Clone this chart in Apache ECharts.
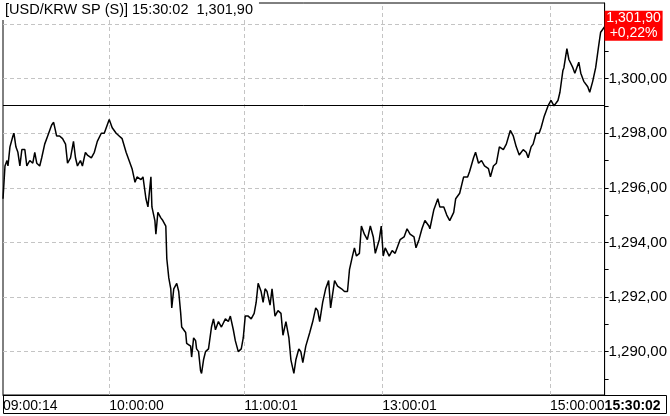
<!DOCTYPE html>
<html><head><meta charset="utf-8">
<script src="https://cdn.jsdelivr.net/npm/echarts@6/dist/echarts.min.js"></script>
<style>html,body{margin:0;padding:0;background:#fff}#c{width:670px;height:416px}</style>
</head><body><div id="c"></div>
<script>
// ---- data ----
const symbolName = '[USD/KRW SP (S)]';
const lastTime = '15:30:02';
const lastPrice = 1301.90;
const prevClose = 1299.04;
const changePct = 0.22;
const tickCount = 607; // number of tick slots on the time axis
const tickNo = [0,2,4,5,7,10,11,13,15,17,19,22,24,27,30,32,34,37,39,42,45,49,51,54,57,60,63,65,68,71,73,75,78,80,83,85,89,92,95,99,102,104,107,110,114,117,120,124,127,130,133,135,139,141,144,146,149,150,153,154,156,159,161,164,165,167,169,170,172,175,177,179,180,184,185,189,190,192,194,195,197,199,200,202,204,207,210,212,214,217,220,224,227,229,232,234,237,240,242,244,247,250,253,255,257,260,262,264,266,269,271,274,277,280,282,285,288,290,293,295,298,300,302,305,309,312,315,317,319,322,325,328,330,334,337,341,344,347,349,352,354,356,359,361,364,367,370,373,375,379,381,383,385,389,392,395,400,404,407,410,414,416,419,422,425,429,430,434,438,440,444,447,450,454,456,460,464,468,470,474,476,479,482,485,489,491,494,497,500,504,507,511,514,517,520,524,527,529,532,534,537,540,542,545,549,552,555,559,561,564,565,568,570,574,576,580,582,585,589,591,594,597,600,602,606];
const price = [1295.6,1296.8,1297.0,1296.8,1297.5,1297.9,1298.0,1297.5,1297.3,1296.8,1297.4,1297.4,1296.8,1297.0,1296.9,1297.3,1296.9,1296.8,1297.1,1297.6,1297.9,1298.3,1298.4,1297.9,1297.9,1297.8,1297.6,1296.9,1297.1,1297.7,1297.1,1296.8,1297.0,1296.8,1297.3,1297.2,1297.1,1297.3,1297.7,1298.0,1298.0,1298.2,1298.5,1298.2,1298.0,1297.9,1297.8,1297.3,1297.0,1296.7,1296.2,1296.4,1296.3,1296.4,1295.6,1295.3,1296.4,1295.3,1294.8,1294.3,1295.1,1294.9,1294.8,1294.6,1293.4,1292.7,1292.3,1291.6,1292.3,1292.5,1292.2,1291.4,1290.9,1290.7,1290.3,1290.2,1289.8,1290.5,1290.4,1290.1,1290.0,1289.3,1289.2,1289.7,1290.0,1290.1,1290.9,1291.2,1290.8,1291.1,1290.9,1291.2,1291.1,1291.3,1290.8,1290.4,1290.0,1290.1,1290.5,1291.3,1291.3,1291.2,1291.4,1291.8,1292.5,1292.2,1291.8,1292.3,1292.2,1291.7,1292.3,1291.3,1291.5,1291.4,1290.6,1291.1,1290.5,1289.7,1289.2,1289.7,1290.1,1290.0,1289.6,1290.2,1290.7,1291.1,1291.6,1291.5,1291.1,1291.8,1292.3,1292.6,1291.6,1292.6,1292.4,1292.3,1292.2,1292.2,1293.0,1293.5,1293.8,1293.5,1293.6,1294.6,1294.3,1294.1,1294.6,1294.2,1293.6,1294.1,1294.6,1293.5,1293.8,1293.5,1293.7,1293.6,1294.1,1294.2,1294.5,1294.3,1294.2,1293.8,1294.1,1294.5,1294.8,1294.6,1294.5,1295.2,1295.6,1295.3,1295.3,1295.0,1294.8,1295.1,1295.6,1295.8,1296.4,1296.4,1296.6,1297.1,1297.3,1296.9,1297.0,1296.8,1296.7,1296.4,1296.8,1296.9,1297.5,1297.4,1297.6,1298.1,1297.9,1297.5,1297.2,1297.4,1297.3,1297.1,1297.5,1297.6,1298.0,1298.0,1298.2,1298.6,1299.0,1299.2,1299.0,1299.2,1299.5,1300.3,1300.4,1301.1,1300.7,1300.4,1300.2,1300.6,1300.2,1299.9,1299.7,1299.5,1299.9,1300.4,1301.2,1301.7,1301.9];
const timeLabelTicks = [0,107,243,382,551,606];
const timeLabels = ['09:00:14','10:00:00','11:00:01','13:00:01','15:00:00','15:30:02'];
const yGridValues = [1290,1292,1294,1296,1298,1300,1302];
const yLabelValues = [1290,1292,1294,1296,1298,1300];
const yTickValues = [1289,1290,1291,1292,1293,1294,1295,1296,1297,1298,1299,1300,1301,1302];
const yMin = 1288.41, yMax = 1302.77;

// ---- helpers ----
function fmt(v){
  const s = v.toFixed(2).split('.');
  return s[0].replace(/\B(?=(\d{3})+(?!\d))/g, ',') + ',' + s[1];
}
const categories = [];
for (let i = 0; i < tickCount; i++) categories.push(String(i));
const lineData = new Array(tickCount).fill(null);
tickNo.forEach((t, k) => { lineData[t] = price[k]; });
const labelMap = {};
timeLabelTicks.forEach((t, k) => { labelMap[t] = timeLabels[k]; });
const lastTick = timeLabelTicks[timeLabelTicks.length - 1];

const FONT = 'Liberation Sans';
const gridStyle = {color: '#c4c4c4', type: [4, 3], width: 1};
const markData = [];
yGridValues.forEach(v => markData.push({yAxis: v, lineStyle: gridStyle}));
timeLabelTicks.slice(1, -1).forEach(t => markData.push({xAxis: String(t), lineStyle: gridStyle}));
markData.push({yAxis: prevClose, lineStyle: {color: '#000', type: 'solid', width: 1}});

const chart = echarts.init(document.getElementById('c'), null, {renderer: 'canvas'});
chart.setOption({
  animation: false,
  backgroundColor: '#fff',
  textStyle: {fontFamily: FONT},
  title: {
    text: symbolName + ' ' + lastTime + '  ' + fmt(lastPrice),
    left: 2, top: 0, padding: [2, 6, 3, 3],
    backgroundColor: '#fff',
    textStyle: {fontSize: 14.5, fontWeight: 'normal', color: '#000', fontFamily: FONT}
  },
  grid: {left: 3, right: 61, top: 3, bottom: 21, show: true, borderColor: '#000', borderWidth: 1, backgroundColor: '#fff'},
  xAxis: {
    type: 'category', data: categories, boundaryGap: false,
    axisLine: {show: true, lineStyle: {color: '#000', width: 1}},
    axisTick: {show: false},
    splitLine: {show: false},
    axisLabel: {
      interval: (i) => labelMap[i] !== undefined,
      formatter: (val, i) => i === lastTick ? '{b|' + labelMap[i] + '}' : labelMap[i],
      align: 'left', margin: 4, fontSize: 14, color: '#000', fontFamily: FONT,
      rich: {b: {fontWeight: 'bold', fontSize: 14, color: '#000', fontFamily: FONT}}
    }
  },
  yAxis: {
    type: 'value', position: 'right', min: yMin, max: yMax, scale: true,
    axisLine: {show: true, lineStyle: {color: '#000', width: 1}},
    axisTick: {show: true, length: 4, lineStyle: {color: '#000'}, customValues: yTickValues},
    axisLabel: {show: true, customValues: yLabelValues, formatter: v => fmt(v), margin: 4, fontSize: 15, color: '#000', fontFamily: FONT},
    splitLine: {show: false}
  },
  series: [{
    type: 'line', data: lineData, connectNulls: true, showSymbol: false, symbol: 'none',
    lineStyle: {color: '#000', width: 1.5}, silent: true,
    markLine: {silent: true, symbol: ['none', 'none'], label: {show: false}, data: markData, z: 1},
    markPoint: {
      silent: true, symbol: 'rect', symbolSize: 1, itemStyle: {color: 'rgba(0,0,0,0)'},
      data: [{coord: [String(lastTick), lastPrice]}],
      label: {
        show: true, position: 'inside', offset: [29, -1],
        formatter: () => fmt(lastPrice) + '\n+' + changePct.toFixed(2).replace('.', ',') + '%',
        backgroundColor: '#ff0000', color: '#fff', fontSize: 14, lineHeight: 15,
        width: 54, align: 'center', padding: [0, 2], fontFamily: FONT
      }
    }
  }],
  graphic: [{
    type: 'rect', silent: true, z: 10,
    shape: {x: 3.5, y: 395.5, width: 663, height: 18},
    style: {fill: 'none', stroke: '#000', lineWidth: 1}
  }]
});
</script></body></html>
